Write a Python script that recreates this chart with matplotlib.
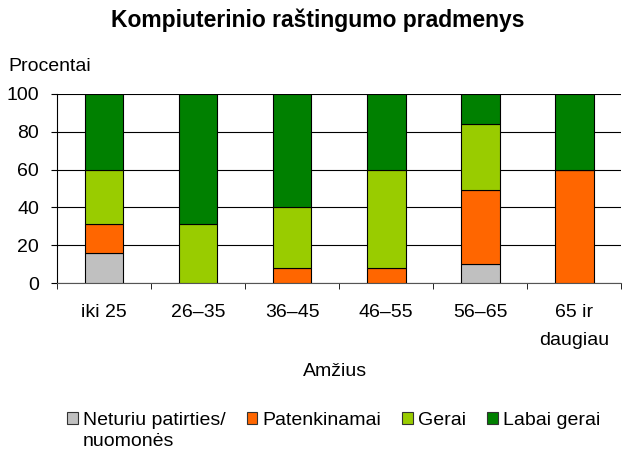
import matplotlib
matplotlib.use('Agg')
import matplotlib.pyplot as plt
import numpy as np

plt.rcParams['font.family'] = ['Liberation Sans', 'DejaVu Sans']

categories = ['iki 25', '26–35', '36–45', '46–55', '56–65', '65 ir\ndaugiau']
series_names = ['Neturiu patirties/\nnuomonės', 'Patenkinamai', 'Gerai', 'Labai gerai']
neturiu = [16, 0, 0, 0, 10, 0]
patenkinamai = [15, 0, 8, 8, 39, 60]
gerai = [29, 31, 32, 52, 35, 0]
labai_gerai = [40, 69, 60, 40, 16, 40]
colors = ['#C0C0C0', '#FF6600', '#99CC00', '#008000']


def main():

    fig = plt.figure(figsize=(6.23, 4.49), dpi=100)
    ax = fig.add_axes([0.0915, 0.3697, 0.906, 0.421])

    x = np.arange(len(categories))
    bottom = np.zeros(len(categories))
    handles = []
    for name, vals, c in zip(series_names, [neturiu, patenkinamai, gerai, labai_gerai], colors):
        vals = np.array(vals, dtype=float)
        b = ax.bar(x, vals, 0.41, bottom=bottom, color=c, edgecolor='black',
                   linewidth=0.8, label=name, zorder=3)
        handles.append(b)
        bottom += vals

    ax.set_xlim(-0.5, len(categories) - 0.5)
    ax.set_ylim(0, 100)
    ax.set_yticks(np.arange(0, 101, 20))
    ax.grid(axis='y', color='black', linewidth=0.8, zorder=0)
    for s in ['top', 'right']:
        ax.spines[s].set_visible(False)
    ax.spines['left'].set_color('black')
    ax.spines['bottom'].set_color('#555555')

    ax.set_xticks(x)
    ax.set_xticklabels(categories, fontsize=14, va='top')
    ax.tick_params(axis='x', which='major', length=0, pad=15)
    ax.set_xticks(np.arange(-0.5, len(categories)), minor=True)
    ax.tick_params(axis='x', which='minor', length=4, direction='out')
    ax.tick_params(axis='y', labelsize=14, length=4, direction='out', pad=9)
    plt.setp(ax.get_xticklabels(), linespacing=1.85)

    fig.text(0.51, 0.955, 'Kompiuterinio raštingumo pradmenys', ha='center', va='center',
             fontsize=16.5, fontweight='bold')
    fig.text(0.014, 0.852, 'Procentai', ha='left', va='center', fontsize=14)
    fig.text(0.538, 0.172, 'Amžius', ha='center', va='center', fontsize=14)

    leg = fig.legend(handles=handles, labels=series_names, loc='upper left',
                     bbox_to_anchor=(0.095, 0.1), ncol=4, frameon=False, fontsize=14,
                     handlelength=0.55, handleheight=0.55, handletextpad=0.25,
                     columnspacing=1.1, borderaxespad=0, labelspacing=0)
    # handles next to the first line of a two-line label, columns aligned at top
    leg._legend_handle_box.align = 'top'
    for col in leg._legend_handle_box.get_children():
        for item in col.get_children():
            item.align = 'top'
    for p in leg.get_patches():
        p.set_edgecolor('#333333')
    for t in leg.get_texts():
        t.set_linespacing(1.35)

    plt.savefig('out.png', dpi=100)


if __name__ == '__main__':
    main()
